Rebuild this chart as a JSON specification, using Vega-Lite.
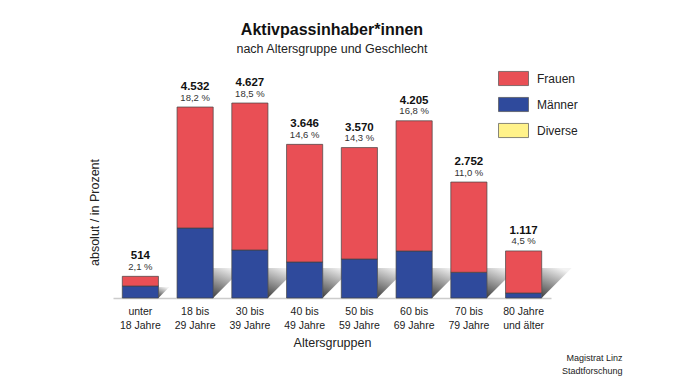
{
  "$schema": "https://vega.github.io/schema/vega-lite/v6.json",
  "autosize": {"type": "none"},
  "width": 438,
  "height": 238,
  "padding": {"left": 113, "top": 60, "right": 129, "bottom": 84},
  "background": "white",
  "config": {
    "font": "Liberation Sans",
    "view": {"stroke": null},
    "locale": {"number": {"decimal": ",", "thousands": ".", "grouping": [3], "currency": ["", " €"]}}
  },
  "title": {
    "text": "Aktivpassinhaber*innen",
    "subtitle": "nach Altersgruppe und Geschlecht",
    "fontSize": 16,
    "fontWeight": "bold",
    "color": "#111111",
    "subtitleFontSize": 12.5,
    "subtitleColor": "#222222",
    "subtitlePadding": 5,
    "anchor": "middle",
    "offset": 5
  },
  "datasets": {
    "bars": [
      {"gruppe": "unter|18 Jahre", "geschlecht": "Männer", "n": 285},
      {"gruppe": "unter|18 Jahre", "geschlecht": "Frauen", "n": 229},
      {"gruppe": "18 bis|29 Jahre", "geschlecht": "Männer", "n": 1661},
      {"gruppe": "18 bis|29 Jahre", "geschlecht": "Frauen", "n": 2871},
      {"gruppe": "30 bis|39 Jahre", "geschlecht": "Männer", "n": 1139},
      {"gruppe": "30 bis|39 Jahre", "geschlecht": "Frauen", "n": 3488},
      {"gruppe": "40 bis|49 Jahre", "geschlecht": "Männer", "n": 854},
      {"gruppe": "40 bis|49 Jahre", "geschlecht": "Frauen", "n": 2792},
      {"gruppe": "50 bis|59 Jahre", "geschlecht": "Männer", "n": 925},
      {"gruppe": "50 bis|59 Jahre", "geschlecht": "Frauen", "n": 2645},
      {"gruppe": "60 bis|69 Jahre", "geschlecht": "Männer", "n": 1115},
      {"gruppe": "60 bis|69 Jahre", "geschlecht": "Frauen", "n": 3090},
      {"gruppe": "70 bis|79 Jahre", "geschlecht": "Männer", "n": 610},
      {"gruppe": "70 bis|79 Jahre", "geschlecht": "Frauen", "n": 2142},
      {"gruppe": "80 Jahre|und älter", "geschlecht": "Männer", "n": 119},
      {"gruppe": "80 Jahre|und älter", "geschlecht": "Frauen", "n": 998}
    ],
    "totals": [
      {"gruppe": "unter|18 Jahre", "total": 514, "pct": "2,1 %"},
      {"gruppe": "18 bis|29 Jahre", "total": 4532, "pct": "18,2 %"},
      {"gruppe": "30 bis|39 Jahre", "total": 4627, "pct": "18,5 %"},
      {"gruppe": "40 bis|49 Jahre", "total": 3646, "pct": "14,6 %"},
      {"gruppe": "50 bis|59 Jahre", "total": 3570, "pct": "14,3 %"},
      {"gruppe": "60 bis|69 Jahre", "total": 4205, "pct": "16,8 %"},
      {"gruppe": "70 bis|79 Jahre", "total": 2752, "pct": "11,0 %"},
      {"gruppe": "80 Jahre|und älter", "total": 1117, "pct": "4,5 %"}
    ]
  },
  "layer": [
    {
      "data": {"name": "totals"},
      "mark": {
        "type": "point",
        "shape": "M0,-1L1,-1L0,0Z",
        "filled": true,
        "opacity": 1,
        "strokeWidth": 0,
        "xOffset": 18,
        "fill": {
          "gradient": "linear",
          "x1": 0.6, "y1": 0, "x2": 0.2, "y2": 1,
          "stops": [
            {"offset": 0, "color": "#f2f2f2"},
            {"offset": 1, "color": "#4a4a4a"}
          ]
        }
      },
      "encoding": {
        "x": {"field": "gruppe", "type": "nominal", "sort": null},
        "y": {
          "datum": 0,
          "type": "quantitative",
          "axis": {
            "orient": "right",
            "title": ["Magistrat Linz", "Stadtforschung"],
            "domain": false, "ticks": false, "labels": false, "grid": false,
            "titleAngle": 0, "titleX": 71, "titleY": 297, "titleAlign": "right",
            "titleBaseline": "middle", "titleFontSize": 9, "titleFontWeight": "normal",
            "titleLineHeight": 13, "titleColor": "#222222"
          }
        },
        "size": {"condition": {"test": "datum.total < 1000", "value": 484}, "value": 3600}
      }
    },
    {
      "layer": [
        {
          "data": {"name": "bars"},
          "mark": {"type": "bar", "stroke": "#444444", "strokeWidth": 0.7},
          "encoding": {
            "x": {
              "field": "gruppe", "type": "nominal", "sort": null,
              "scale": {"paddingInner": 0.34, "paddingOuter": 0.17},
              "axis": {
                "title": "Altersgruppen",
                "labelExpr": "split(datum.label, '|')",
                "labelAngle": 0,
                "labelAlign": "center",
                "labelBaseline": "top",
                "ticks": false,
                "domainColor": "#cccccc",
                "domainWidth": 1.5,
                "labelFontSize": 10.5,
                "labelColor": "#222222",
                "labelPadding": 8,
                "labelLineHeight": 14,
                "titleFontSize": 12.5,
                "titleFontWeight": "normal",
                "titleColor": "#222222",
                "titlePadding": 6
              }
            },
            "y": {
              "field": "n", "type": "quantitative", "stack": "zero",
              "scale": {"domain": [0, 5648], "nice": false},
              "axis": {
                "orient": "left", "title": "absolut / in Prozent",
                "domain": false, "ticks": false, "labels": false, "grid": false,
                "titleFontSize": 12.5, "titleFontWeight": "normal", "titleColor": "#222222",
                "titleX": -19, "titleY": 152, "titleAngle": -90,
                "titleBaseline": "middle", "titleAlign": "center"
              }
            },
            "color": {
              "field": "geschlecht", "type": "nominal",
              "scale": {"domain": ["Frauen", "Männer", "Diverse"], "range": ["#e94f55", "#2f4a9c", "#fff28a"]},
              "legend": {
                "title": null,
                "orient": "none",
                "legendX": 385,
                "legendY": 3,
                "symbolType": "M-1,-0.47H1V0.47H-1Z",
                "symbolSize": 900,
                "symbolStrokeColor": "#555555",
                "symbolStrokeWidth": 0.7,
                "symbolOpacity": 1,
                "labelFontSize": 12,
                "labelColor": "#222222",
                "labelOffset": 8,
                "rowPadding": 2
              }
            },
            "order": {"field": "geschlecht", "sort": "descending"}
          }
        },
        {
          "data": {"name": "totals"},
          "mark": {"type": "text", "fontSize": 11.5, "fontWeight": "bold", "color": "#111111", "baseline": "alphabetic", "dy": -17},
          "encoding": {
            "x": {"field": "gruppe", "type": "nominal", "sort": null},
            "y": {"field": "total", "type": "quantitative", "axis": {"orient": "left", "title": "absolut / in Prozent"}},
            "text": {"field": "total", "type": "quantitative", "format": ",d"}
          }
        },
        {
          "data": {"name": "totals"},
          "mark": {"type": "text", "fontSize": 9.5, "color": "#333333", "baseline": "alphabetic", "dy": -6.5},
          "encoding": {
            "x": {"field": "gruppe", "type": "nominal", "sort": null},
            "y": {"field": "total", "type": "quantitative", "axis": {"orient": "left", "title": "absolut / in Prozent"}},
            "text": {"field": "pct", "type": "nominal"}
          }
        }
      ]
    }
  ],
  "resolve": {"axis": {"y": "independent"}}
}
